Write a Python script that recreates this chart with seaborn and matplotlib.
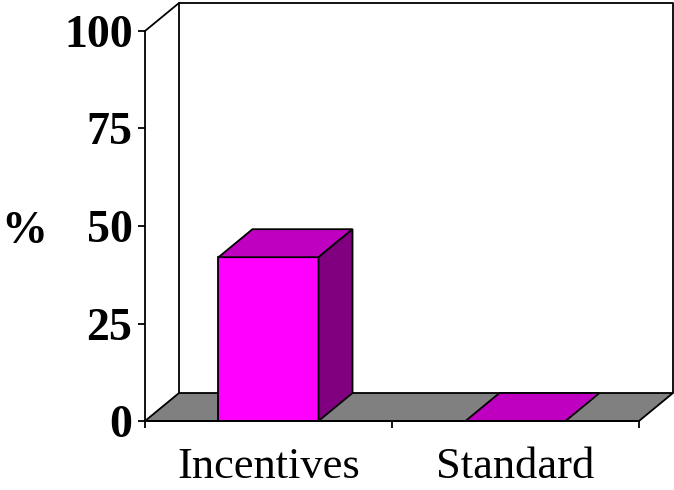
import matplotlib
matplotlib.use("Agg")
import matplotlib.pyplot as plt
from matplotlib.patches import Polygon
from matplotlib.lines import Line2D
import seaborn as sns
import pandas as pd

categories = ["Incentives", "Standard"]
values = [42, 0]
y_ticks = [0, 25, 50, 75, 100]

FRONT = "#FF00FF"
TOP = "#C000C0"
SIDE = "#800080"
FLOOR = "#808080"

sns.set_theme(style="white")
plt.rcParams["font.family"] = ["Liberation Serif", "DejaVu Serif"]
plt.rcParams["text.color"] = "black"
plt.rcParams["xtick.color"] = "black"
plt.rcParams["ytick.color"] = "black"
plt.rcParams["axes.labelcolor"] = "black"

W, H = 674, 490
fig = plt.figure(figsize=(W / 100, H / 100), dpi=100)
ax = fig.add_axes([145 / W, (H - 421) / H, (639 - 145) / W, (421 - 31) / H])

df = pd.DataFrame({"group": categories, "pct": values})
sns.barplot(data=df, x="group", y="pct", color=FRONT, width=0.405,
            edgecolor="black", linewidth=1.3, saturation=1, ax=ax, zorder=3)

ax.set_xlim(-0.5, 1.5)
ax.set_ylim(0, 100)

# depth of the 3-D box, in data units
dx = 34 / ((639 - 145) / 2)
dy = 28 * 100 / (421 - 31)
x0, x1 = -0.5, 1.5

lw = 1.3
# floor
ax.add_patch(Polygon([(x0, 0), (x1, 0), (x1 + dx, dy), (x0 + dx, dy)],
                     closed=True, facecolor=FLOOR, edgecolor="black",
                     linewidth=lw, clip_on=False, zorder=1))
# back wall outline
ax.add_line(Line2D([x0 + dx, x0 + dx, x1 + dx, x1 + dx],
                   [dy, 100 + dy, 100 + dy, dy],
                   color="black", linewidth=lw, clip_on=False, zorder=1))
ax.add_line(Line2D([x0, x0 + dx], [100, 100 + dy], color="black",
                   linewidth=lw, clip_on=False, zorder=1))

# top and side faces of each bar
for bar in ax.patches[:len(values)]:
    bx0 = bar.get_x()
    bx1 = bx0 + bar.get_width()
    h = bar.get_height()
    ax.add_patch(Polygon([(bx0, h), (bx1, h), (bx1 + dx, h + dy), (bx0 + dx, h + dy)],
                         closed=True, facecolor=TOP, edgecolor="black",
                         linewidth=lw, clip_on=False, zorder=4))
    if h > 0:
        ax.add_patch(Polygon([(bx1, 0), (bx1 + dx, dy), (bx1 + dx, h + dy), (bx1, h)],
                             closed=True, facecolor=SIDE, edgecolor="black",
                             linewidth=lw, clip_on=False, zorder=4))

for s in ["top", "right"]:
    ax.spines[s].set_visible(False)
for s in ["left", "bottom"]:
    ax.spines[s].set_visible(True)
    ax.spines[s].set_color("black")
    ax.spines[s].set_linewidth(lw)
    ax.spines[s].set_zorder(5)
ax.set_facecolor("none")

ax.set_yticks(y_ticks)
ax.set_yticklabels([str(t) for t in y_ticks], fontsize=33, fontweight="bold",
                   color="black")
ax.set_xticks([-0.5, 0.5, 1.5], minor=False)
ax.set_xticklabels(["", "", ""])
ax.set_xticks([0, 1], minor=True)
ax.set_xticklabels(categories, minor=True, fontsize=32, color="black")
ax.tick_params(axis="y", which="major", left=True, length=5, width=lw,
               color="black", pad=4)
ax.tick_params(axis="x", which="major", bottom=True, length=5, width=lw,
               color="black")
ax.tick_params(axis="x", which="minor", bottom=False, length=0, pad=19)
ax.set_xlabel("")
ax.set_ylabel("%", fontsize=33, fontweight="bold", rotation=0,
              va="center", color="black")
ax.yaxis.set_label_coords(-0.245, 0.485)

fig.savefig("out.png", dpi=100, facecolor="white")
